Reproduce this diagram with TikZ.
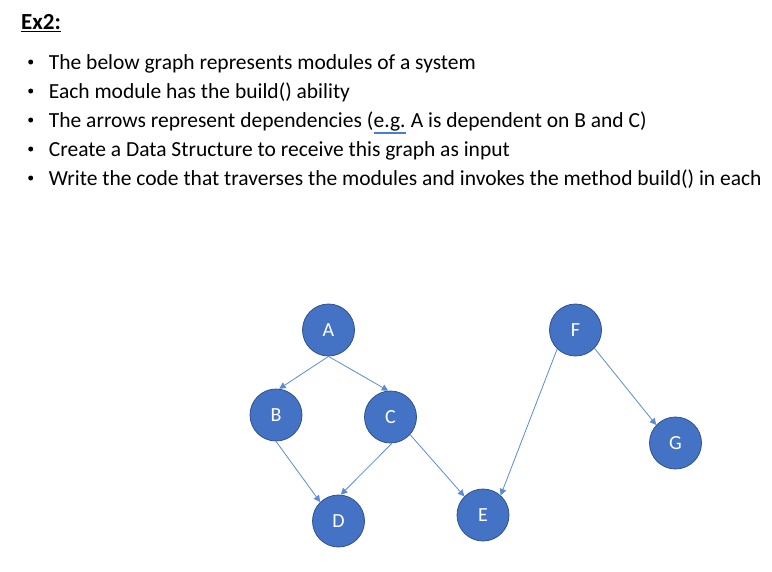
\documentclass[tikz,border=0pt]{standalone}
\usepackage{fontspec}
\setmainfont{Carlito}
\usetikzlibrary{arrows.meta}
\definecolor{nodefill}{HTML}{4472C4}
\definecolor{nodeline}{HTML}{2F528F}
\definecolor{edgeblue}{HTML}{5B8BD6}
\definecolor{spellblue}{HTML}{4A7BD8}
\begin{document}
\begin{tikzpicture}[x=1pt,y=-1pt,
  module/.style={circle,fill=nodefill,draw=nodeline,line width=0.8pt,
    minimum size=52pt,inner sep=0pt,text=white,font=\fontsize{20}{22}\selectfont},
  dep/.style={draw=edgeblue,line width=0.8pt,
    -{Triangle[width=6.5pt,length=6.5pt]}},
  bodytext/.style={anchor=base west,inner sep=0pt,font=\fontsize{21.5}{25}\selectfont},
  bulletdot/.style={circle,fill=black,inner sep=0pt,minimum size=5pt}]
\useasboundingbox (0,0) rectangle (772,571);

% heading
\node[anchor=base west,inner sep=0pt,font=\fontsize{23}{27}\selectfont\bfseries] (title) at (21,29.3) {Ex2:};
\draw[line width=1pt] (title.base west) ++(0,2) -- ([yshift=-2pt]title.base east);

% bullet list
\foreach \i/\yy/\txt in {
  l1/69.5/{The below graph represents modules of a system},
  l2/98.5/{Each module has the build() ability},
  l4/156.5/{Create a Data Structure to receive this graph as input},
  l5/185.5/{Write the code that traverses the modules and invokes the method build() in each}} {
  \node[bodytext] (\i) at (48.7,\yy) {\txt};
  \node[bulletdot] (b\i) at (30.7,\yy-7.5) {};
}
\node[bodytext] (l3a) at (48.7,127.5) {The arrows represent dependencies (};
\node[bodytext] (egw) at (l3a.base east) {\underline{e.g.}};
\node[bodytext] (l3b) at (egw.base east) {\ A is dependent on B and C)};
\node[bulletdot] (bl3) at (30.7,120) {};
\draw[spellblue,line width=0.6pt] ([yshift=-4.6pt]egw.base west) -- ([yshift=-4.6pt]egw.base east);
\draw[spellblue,line width=0.6pt] ([yshift=-6pt]egw.base west) -- ([yshift=-6pt]egw.base east);

% modules
\node[module] (A) at (328.5,330) {A};
\node[module] (B) at (276,415) {B};
\node[module] (C) at (390.5,417) {C};
\node[module] (D) at (338.5,521) {D};
\node[module] (E) at (483,515) {E};
\node[module] (F) at (575.5,330) {F};
\node[module] (G) at (675.5,443) {G};

% dependencies
\draw[dep] (A.south) -- (B.83);
\draw[dep] (A.south) -- (C.95);
\draw[dep] (B.south) -- (D.134);
\draw[dep] (C.-87) -- (D.85);
\draw[dep] (C.-42) -- (E.135);
\draw[dep] (F.-134) -- (E.48);
\draw[dep] (F.-44) -- (G.137);
\end{tikzpicture}
\end{document}
